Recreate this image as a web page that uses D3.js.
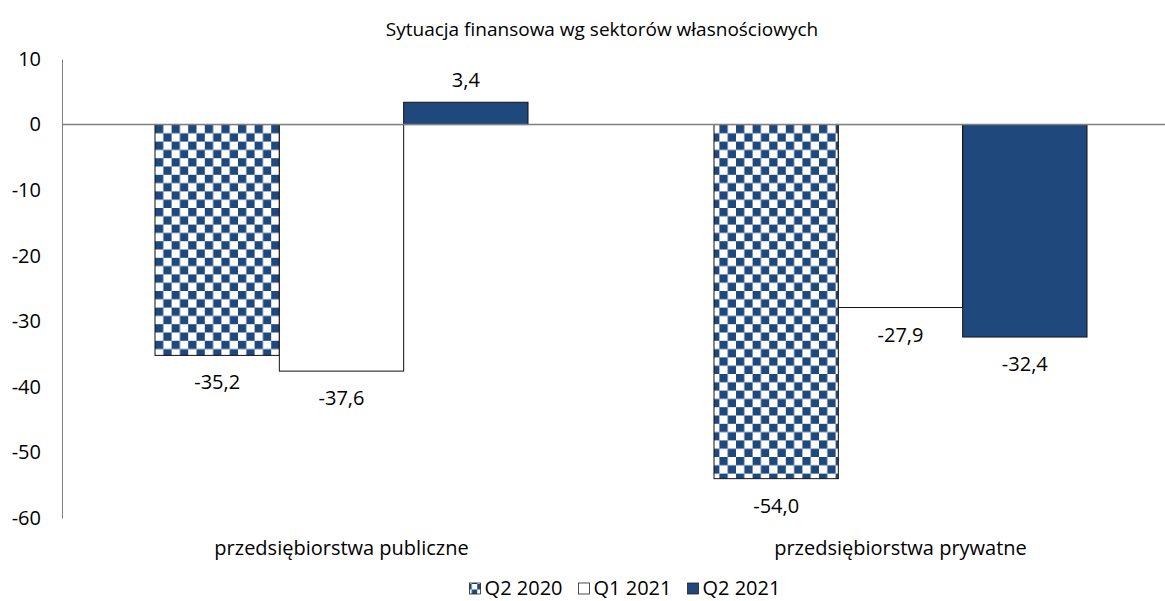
<!DOCTYPE html>
<html>
<head>
<meta charset="utf-8">
<title>Sytuacja finansowa</title>
<script src="https://d3js.org/d3.v7.min.js"></script>
<style>
  body { margin: 0; background: #fff; }
  svg { font-family: 'Open Sans', 'DejaVu Sans', sans-serif; }
</style>
</head>
<body>
<script>
// data
var categories = ['przedsiębiorstwa publiczne', 'przedsiębiorstwa prywatne']
var seriesNames = ['Q2 2020', 'Q1 2021', 'Q2 2021']
var q2_2020 = [-35.2, -54.0]
var q1_2021 = [-37.6, -27.9]
var q2_2021 = [3.4, -32.4]
var yTicks = [10, 0, -10, -20, -30, -40, -50, -60]

var w = 1165
var h = 601
var navy = '#1f497d'
var font = "'Open Sans', 'DejaVu Sans', sans-serif"

var svg = d3.select('body').append('svg').attr('width', w).attr('height', h)

// checker pattern for Q2 2020
var defs = svg.append('defs')
function checker(id, cell, x0, y0) {
    var p = defs.append('pattern')
        .attr('id', id)
        .attr('patternUnits', 'userSpaceOnUse')
        .attr('width', cell * 2).attr('height', cell * 2)
        .attr('x', x0).attr('y', y0)
    p.append('rect').attr('width', cell * 2).attr('height', cell * 2).attr('fill', '#fff')
    p.append('rect').attr('width', cell).attr('height', cell).attr('fill', navy)
    p.append('rect').attr('x', cell).attr('y', cell).attr('width', cell).attr('height', cell).attr('fill', navy)
}
checker('checker', 8.3, 155, 125)

var fills = ['url(#checker)', '#fff', navy]

var yScale = d3.scaleLinear().domain([-60, 10]).range([518, 59])

var xScale = d3.scaleBand().domain(categories).range([62, 1180])
var inner = d3.scaleBand().domain(seriesNames)
    .range([93, xScale.bandwidth() - 93])

// title
svg.append('text')
    .attr('x', 602).attr('y', 36)
    .attr('text-anchor', 'middle')
    .attr('font-size', '19px')
    .attr('fill', '#000')
    .text('Sytuacja finansowa wg sektorów własnościowych')

// y axis
var yAxis = d3.axisLeft(yScale).tickValues(yTicks).tickSize(0).tickPadding(21)
    .tickFormat(function(d) { return d })
var gy = svg.append('g').attr('transform', 'translate(62,0)').call(yAxis)
gy.select('.domain').attr('stroke', '#808080').attr('stroke-width', 1)
gy.selectAll('text').attr('font-size', '20px').attr('fill', '#000')
    .attr('font-family', font)

// bars
var rows = []
categories.forEach(function(c, i) {
    rows.push({ cat: c, s: seriesNames[0], v: q2_2020[i], k: 0 })
    rows.push({ cat: c, s: seriesNames[1], v: q1_2021[i], k: 1 })
    rows.push({ cat: c, s: seriesNames[2], v: q2_2021[i], k: 2 })
})

svg.selectAll('rect.bar')
    .data(rows)
    .enter()
    .append('rect')
    .attr('class', 'bar')
    .attr('x', function(d) { return xScale(d.cat) + inner(d.s) })
    .attr('y', function(d) { return yScale(Math.max(0, d.v)) })
    .attr('width', inner.bandwidth())
    .attr('height', function(d) { return Math.abs(yScale(d.v) - yScale(0)) })
    .attr('fill', function(d) { return fills[d.k] })
    .attr('stroke', '#111')
    .attr('stroke-width', 1)

// zero line
svg.append('line')
    .attr('x1', 62).attr('x2', w)
    .attr('y1', yScale(0)).attr('y2', yScale(0))
    .attr('stroke', '#808080').attr('stroke-width', 1.5)

// value labels
svg.selectAll('text.val')
    .data(rows)
    .enter()
    .append('text')
    .attr('class', 'val')
    .attr('x', function(d) { return xScale(d.cat) + inner(d.s) + inner.bandwidth() / 2 })
    .attr('y', function(d) { return d.v >= 0 ? yScale(d.v) - 15 : yScale(d.v) + 34 })
    .attr('text-anchor', 'middle')
    .attr('font-size', '20px')
    .attr('fill', '#000')
    .text(function(d) { return d.v.toFixed(1).replace('.', ',') })

// category labels
svg.selectAll('text.cat')
    .data(categories)
    .enter()
    .append('text')
    .attr('class', 'cat')
    .attr('x', function(d) { return xScale(d) + xScale.bandwidth() / 2 })
    .attr('y', 555)
    .attr('text-anchor', 'middle')
    .attr('font-size', '20px')
    .attr('fill', '#000')
    .text(function(d) { return d })

// legend, centred under the plot area
checker('lchk', 5.5, 0, 0)
var lg = svg.append('g')
var items = lg.selectAll('g.leg')
    .data(seriesNames)
    .enter()
    .append('g')
    .attr('class', 'leg')
items.append('rect')
    .attr('y', -12)
    .attr('width', 11).attr('height', 11)
    .attr('fill', function(d, i) { return i === 0 ? 'url(#lchk)' : fills[i] })
    .attr('stroke', '#222').attr('stroke-width', 0.8)
items.append('text')
    .attr('x', 15).attr('y', 0)
    .attr('font-size', '20px')
    .attr('fill', '#000')
    .text(function(d) { return d })
var cx = 0
items.each(function() {
    var g = d3.select(this)
    g.attr('transform', 'translate(' + cx + ',0)')
    cx += 15 + g.select('text').node().getComputedTextLength() + 16
})
var total = cx - 16
var lx = 625 - total / 2
lg.attr('transform', 'translate(' + lx + ',595)')
d3.select('#lchk').attr('x', lx).attr('y', 583)
</script>
</body>
</html>
